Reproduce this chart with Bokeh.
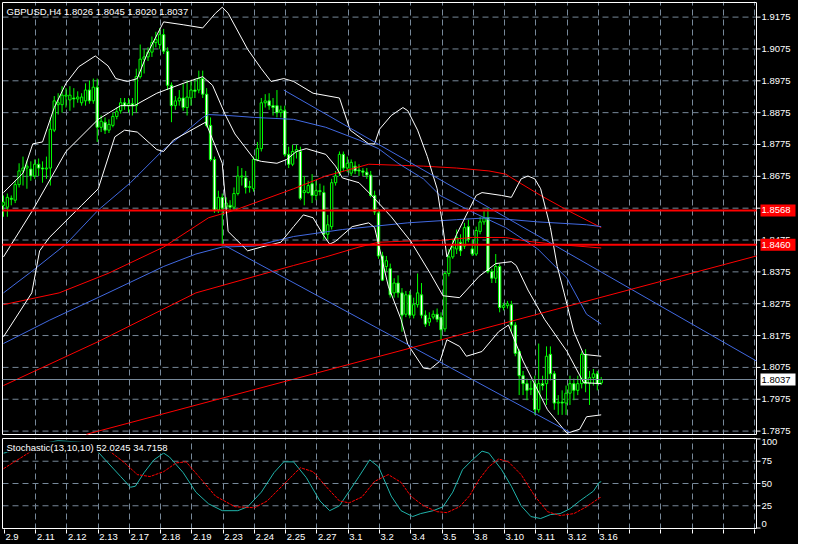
from bokeh.plotting import figure
from bokeh.models import Range1d, FixedTicker, Grid, Label, ColumnDataSource
from bokeh.core.properties import value
from bokeh.layouts import column
from bokeh.embed import file_html
from bokeh.resources import INLINE

# ---------------- data ----------------
bar_open = [1.8584,1.8578,1.8606,1.8600,1.8649,1.8692,1.8701,1.8698,1.8676,1.8713,
1.8701,1.8698,1.8701,1.8820,1.8900,1.8900,1.8927,1.8915,1.8921,1.8918,
1.8906,1.8912,1.8946,1.8912,1.8955,1.8829,1.8845,1.8820,1.8835,1.8863,
1.8881,1.8906,1.8897,1.8903,1.8897,1.8988,1.9043,1.9050,1.9065,1.9095,
1.9089,1.9120,1.9068,1.8961,1.8897,1.8912,1.8921,1.8891,1.8921,1.8946,
1.8946,1.8982,1.8933,1.8835,1.8728,1.8569,1.8609,1.8578,1.8584,1.8578,
1.8621,1.8673,1.8670,1.8640,1.8636,1.8728,1.8762,1.8906,1.8912,1.8897,
1.8897,1.8875,1.8881,1.8744,1.8713,1.8753,1.8753,1.8624,1.8624,1.8652,
1.8615,1.8630,1.8624,1.8493,1.8517,1.8655,1.8685,1.8744,1.8701,1.8685,
1.8707,1.8695,1.8692,1.8688,1.8679,1.8615,1.8560,1.8425,1.8392,1.8385,
1.8309,1.8340,1.8309,1.8242,1.8303,1.8239,1.8272,1.8303,1.8239,1.8217,
1.8233,1.8242,1.8233,1.8196,1.8370,1.8422,1.8447,1.8468,1.8456,1.8517,
1.8447,1.8431,1.8502,1.8532,1.8545,1.8376,1.8355,1.8392,1.8263,1.8269,
1.8272,1.8208,1.8125,1.8049,1.8024,1.8006,1.8024,1.7942,1.8024,1.8024,
1.8116,1.8055,1.7963,1.7966,1.7963,1.7994,1.8024,1.8003,1.8024,1.8116,
1.8024,1.8043,1.8055,1.8026]
bar_close = [1.8594,1.8609,1.8603,1.8649,1.8692,1.8701,1.8707,1.8676,1.8713,1.8701,
1.8698,1.8701,1.8823,1.8912,1.8906,1.8930,1.8930,1.8930,1.8918,1.8924,
1.8924,1.8946,1.8912,1.8955,1.8829,1.8848,1.8820,1.8838,1.8863,1.8878,
1.8906,1.8897,1.8903,1.8897,1.8988,1.9043,1.9050,1.9065,1.9095,1.9105,
1.9120,1.9068,1.8961,1.8897,1.8912,1.8921,1.8891,1.8924,1.8946,1.8942,
1.8982,1.8933,1.8835,1.8728,1.8569,1.8609,1.8575,1.8591,1.8578,1.8621,
1.8676,1.8676,1.8640,1.8643,1.8728,1.8762,1.8906,1.8912,1.8897,1.8891,
1.8875,1.8884,1.8744,1.8713,1.8753,1.8759,1.8606,1.8630,1.8646,1.8615,
1.8630,1.8627,1.8493,1.8523,1.8655,1.8676,1.8744,1.8701,1.8716,1.8719,
1.8692,1.8692,1.8688,1.8679,1.8615,1.8563,1.8425,1.8349,1.8410,1.8303,
1.8340,1.8309,1.8239,1.8303,1.8239,1.8272,1.8309,1.8239,1.8211,1.8229,
1.8242,1.8226,1.8193,1.8370,1.8422,1.8453,1.8483,1.8441,1.8514,1.8477,
1.8431,1.8505,1.8532,1.8545,1.8376,1.8355,1.8392,1.8263,1.8269,1.8275,
1.8208,1.8119,1.8049,1.8024,1.8003,1.8009,1.7942,1.8024,1.8018,1.8110,
1.8055,1.7963,1.7966,1.7963,1.7994,1.8024,1.8003,1.8024,1.8116,1.8024,
1.8043,1.8055,1.8024,1.8037]
bar_high = [1.8615,1.8621,1.8615,1.8661,1.8716,1.8737,1.8725,1.8722,1.8728,1.8731,
1.8722,1.8737,1.8860,1.8927,1.8936,1.8958,1.8952,1.8958,1.8952,1.8942,
1.8936,1.8967,1.8976,1.8982,1.8982,1.8866,1.8860,1.8854,1.8875,1.8891,
1.8921,1.8921,1.8921,1.8921,1.9013,1.9089,1.9074,1.9080,1.9114,1.9129,
1.9141,1.9138,1.9080,1.8970,1.8927,1.8946,1.8967,1.8976,1.8976,1.8982,
1.9007,1.9007,1.8952,1.8860,1.8737,1.8630,1.8621,1.8609,1.8600,1.8640,
1.8707,1.8701,1.8692,1.8661,1.8737,1.8783,1.8921,1.8933,1.8936,1.8921,
1.8946,1.8897,1.8897,1.8768,1.8774,1.8774,1.8768,1.8676,1.8661,1.8682,
1.8661,1.8652,1.8646,1.8554,1.8667,1.8692,1.8753,1.8753,1.8737,1.8728,
1.8722,1.8713,1.8701,1.8701,1.8692,1.8630,1.8569,1.8438,1.8425,1.8401,
1.8355,1.8364,1.8324,1.8315,1.8315,1.8294,1.8370,1.8340,1.8254,1.8248,
1.8254,1.8260,1.8248,1.8376,1.8447,1.8477,1.8508,1.8493,1.8529,1.8539,
1.8477,1.8517,1.8548,1.8569,1.8575,1.8385,1.8431,1.8401,1.8278,1.8284,
1.8284,1.8217,1.8132,1.8064,1.8040,1.8034,1.8049,1.8150,1.8049,1.8141,
1.8141,1.8064,1.7988,1.8003,1.8018,1.8049,1.8040,1.8049,1.8125,1.8132,
1.8064,1.8070,1.8064,1.8045]
bar_low = [1.8548,1.8548,1.8584,1.8591,1.8640,1.8646,1.8636,1.8661,1.8667,1.8676,
1.8655,1.8667,1.8646,1.8814,1.8869,1.8875,1.8891,1.8881,1.8891,1.8906,
1.8897,1.8897,1.8903,1.8903,1.8783,1.8814,1.8808,1.8811,1.8829,1.8854,
1.8872,1.8884,1.8875,1.8866,1.8875,1.8982,1.8998,1.9037,1.9050,1.9080,
1.9074,1.9059,1.8946,1.8845,1.8884,1.8897,1.8881,1.8866,1.8897,1.8921,
1.8936,1.8921,1.8829,1.8722,1.8560,1.8560,1.8456,1.8566,1.8566,1.8569,
1.8615,1.8646,1.8621,1.8624,1.8627,1.8722,1.8753,1.8891,1.8884,1.8866,
1.8860,1.8860,1.8737,1.8701,1.8707,1.8731,1.8600,1.8584,1.8621,1.8591,
1.8600,1.8615,1.8477,1.8477,1.8508,1.8646,1.8676,1.8692,1.8688,1.8676,
1.8682,1.8676,1.8676,1.8667,1.8609,1.8554,1.8416,1.8346,1.8376,1.8294,
1.8294,1.8294,1.8187,1.8233,1.8229,1.8229,1.8263,1.8229,1.8202,1.8205,
1.8226,1.8217,1.8162,1.8187,1.8361,1.8416,1.8431,1.8425,1.8447,1.8468,
1.8425,1.8425,1.8493,1.8523,1.8370,1.8340,1.8340,1.8248,1.8254,1.8260,
1.8187,1.8110,1.7988,1.7988,1.7972,1.7988,1.7926,1.7933,1.8003,1.7957,
1.8034,1.7942,1.7926,1.7926,1.7926,1.7957,1.7972,1.7988,1.8009,1.7997,
1.7957,1.8018,1.8003,1.8020]

# Bollinger bands (white)
bb_up_bar = [0,5,7.5,10,13,16,19.25,23.5,26.75,28.75,31.75,34.25,36.75,41,46,51,54.25,56,57.5,62.5,66,68.5,71.75,74.25,79.25,86,88.75,93.5,95,96.25,99.25,102.25,103.5,106,108.5,111,112.5,113.5,116,121,122.5,127.5,130,132.5,134.25,136,137.5,140,141.75,143.5,146,148.5,153]
bb_up_val = [1.8624,1.8685,1.8777,1.8783,1.8891,1.8967,1.9019,1.9053,1.9022,1.8982,1.8973,1.8982,1.9059,1.9160,1.9151,1.9141,1.9187,1.9206,1.9187,1.9074,1.9013,1.8973,1.8982,1.8973,1.8936,1.8921,1.8820,1.8777,1.8777,1.8823,1.8866,1.8891,1.8881,1.8820,1.8737,1.8636,1.8514,1.8422,1.8493,1.8615,1.8624,1.8615,1.8609,1.8667,1.8676,1.8667,1.8636,1.8514,1.8392,1.8309,1.8187,1.8116,1.8110]
bb_mid_bar = [0,7.5,16,24.25,30,33.5,39.25,46,51,53.5,56.75,59.25,61.75,64.25,66,70,72.5,75,77.5,82.5,85,86.75,91,94.25,99.25,104.25,109.25,112.5,116.75,121.75,126,130,131.25,134.25,138.5,144.25,148.5,153]
bb_mid_val = [1.8422,1.8569,1.8753,1.8854,1.8897,1.8897,1.8936,1.8967,1.8988,1.8961,1.8869,1.8808,1.8768,1.8728,1.8722,1.8716,1.8728,1.8753,1.8762,1.8744,1.8707,1.8670,1.8655,1.8615,1.8548,1.8471,1.8370,1.8300,1.8294,1.8361,1.8401,1.8407,1.8395,1.8318,1.8226,1.8125,1.8027,1.8024]
bb_low_bar = [0,7.25,9.25,11.75,20,24.25,28.5,31,34.25,39.25,41,43.5,51.75,56,57.5,62.5,66,71,74.25,76.75,79.25,81.75,83.5,85,89.25,93.5,95,98.5,101.75,103.5,107.5,109.25,111.75,113.5,116.75,118.5,122.5,126.75,129.25,133,139.25,144.25,147.5,149.25,153]
bb_low_val = [1.8171,1.8309,1.8441,1.8483,1.8584,1.8636,1.8799,1.8820,1.8814,1.8759,1.8753,1.8789,1.8845,1.8716,1.8502,1.8441,1.8453,1.8468,1.8517,1.8554,1.8545,1.8493,1.8462,1.8471,1.8517,1.8529,1.8514,1.8330,1.8226,1.8147,1.8073,1.8070,1.8095,1.8162,1.8141,1.8110,1.8125,1.8187,1.8208,1.8095,1.7942,1.7868,1.7881,1.7920,1.7926]

# moving averages
ma_blue1_bar = [0,7.5,16,24.25,32.5,41,46,51,52.5,57.5,64.25,74.25,82.5,91,96,101,107.5,111.75,120,128.5,136.75,144.25,149.25,153]
ma_blue1_val = [1.8309,1.8379,1.8462,1.8569,1.8655,1.8759,1.8808,1.8860,1.8869,1.8866,1.8860,1.8854,1.8829,1.8789,1.8762,1.8716,1.8667,1.8615,1.8563,1.8514,1.8447,1.8355,1.8242,1.8211]
ma_blue2_bar = [0,11.75,26.75,41,49.25,56,64.25,74.25,86.75,103.5,116,124.25,136.75,149.25,153]
ma_blue2_val = [1.8150,1.8223,1.8309,1.8392,1.8431,1.8453,1.8456,1.8486,1.8508,1.8529,1.8539,1.8545,1.8532,1.8523,1.8517]
ma_red1_bar = [0,14.25,26.75,41,52.5,59.25,74.25,82.5,93.5,107.5,116,124.25,128.5,132.5,137.5,144.25,153]
ma_red1_val = [1.8272,1.8309,1.8370,1.8453,1.8545,1.8569,1.8636,1.8676,1.8713,1.8707,1.8701,1.8692,1.8682,1.8652,1.8615,1.8569,1.8514]
ma_red2_bar = [0,24.25,49.25,74.25,82.5,91,96,101.75,111.75,120,128.5,134.25,141,153]
ma_red2_val = [1.8018,1.8156,1.8309,1.8395,1.8422,1.8453,1.8468,1.8471,1.8474,1.8483,1.8483,1.8471,1.8462,1.8450]

# trend lines (two anchor points each)
tl_blue1_bar = [71.75, 192.75]
tl_blue1_val = [1.8946, 1.8095]
tl_blue2_bar = [56, 145]
tl_blue2_val = [1.8462, 1.7871]
tl_red_bar = [21.25, 192.75]
tl_red_val = [1.7865, 1.8425]

level_red = [1.8568, 1.8460]
level_bid = 1.8037

# stochastic
k_bar = [0,1,6,14,21,24.25,26.75,30,32.5,33.75,36,38.5,41,42.5,46,49.25,52.5,56,60,62.5,66,69.25,71.75,74.25,77.5,81,83.5,86,88.5,91,93.75,96,99.25,101.75,104.75,106.75,110,112.5,115,117.5,120,122.5,124.25,127.5,130,132.5,135,137.5,140,142.5,145,147.5,149.25,151,152.5,153]
k_val = [84.1,85.0,92,98,96,85.2,73.2,57.8,45.8,46.9,62.2,76.5,84.1,79.7,62.2,40.3,27.2,19.5,19.5,23.9,40.3,62.2,74.3,74.3,56.7,30.4,19.5,25.0,41.4,57.8,76.5,68.8,35.9,19.5,12.9,16.2,19.5,23.9,40.3,65.5,76.5,86.3,84.1,65.5,46.9,25.0,12.9,10.7,15.1,16.2,21.7,30.4,35.9,41.4,51.3,52.0]
d_bar = [0,6.75,14.25,21.75,27.5,31,34.25,37.5,41,44.25,46.75,50,54.25,59.25,64.25,67.5,71.75,76,79.25,82.5,86,88.5,91.75,95,98.5,101.75,104.25,107.5,111,113.5,116.75,119.25,121.75,124.25,126.75,129.25,132.5,136,139.25,142.5,146,149.25,152.5,153]
d_val = [66.6,85.2,95,93,85.2,73.2,60.0,57.8,63.3,73.2,74.3,57.8,35.9,23.9,22.8,30.4,49.1,67.7,63.3,46.9,30.4,28.3,34.8,52.4,60.0,51.3,35.9,25.0,18.4,17.3,23.9,35.9,54.5,68.8,77.5,74.3,60.0,35.9,18.4,14.0,16.2,23.9,33.7,34.7]

date_labels = ['2.9','2.11','2.12','2.13','2.17','2.18','2.19','2.23','2.24','2.25',
               '2.27','3.1','3.2','3.4','3.5','3.8','3.10','3.11','3.12','3.16']
price_ticks = [1.7875,1.7975,1.8075,1.8175,1.8275,1.8375,1.8475,1.8575,1.8675,
               1.8775,1.8875,1.8975,1.9075,1.9175]
stoch_ticks = [0, 25, 50, 75, 100]

title_text = "GBPUSD,H4  1.8026 1.8045 1.8020 1.8037"
stoch_text = "Stochastic(13,10,10)  52.0245  34.7158"

# ---------------- styling / geometry ----------------
FONT = "Liberation Sans"
FS = "9.5px"
BG = "black"
GRID = "#778899"
LIME = "#00ff00"
BLUE = "#4169e1"
PLOT_W = 754          # width of the price area in px
LAB_W = 41            # width of the label strip on the right
X0, X1 = -0.25, 192.75
PPB = PLOT_W / (X1 - X0)
XS, XE = X0 - 1 / PPB, X1 + LAB_W / PPB
Y0, Y1 = 1.78643, 1.92209
MAIN_H = 432
PPY = MAIN_H / (Y1 - Y0)
S0, S1 = -0.5, 100.5
STO_H = 90
PPS = STO_H / (S1 - S0)

grid_x = [0.25 + 8 * k for k in range(1, 25)]
xr = Range1d(XS, XE)


def base_fig(yr, fh, top, bottom, xaxis):
    f = figure(frame_width=PLOT_W + 1 + LAB_W, frame_height=fh, x_range=xr, y_range=yr,
               x_axis_location=xaxis, y_axis_location=None, toolbar_location=None,
               output_backend="svg", min_border_left=1, min_border_right=1,
               min_border_top=top, min_border_bottom=bottom)
    f.background_fill_color = BG
    f.border_fill_color = BG
    f.outline_line_color = None
    f.grid.visible = False
    f.add_layout(Grid(dimension=0, ticker=FixedTicker(ticks=grid_x), grid_line_color=GRID,
                      grid_line_dash="6 4", grid_line_width=1))
    return f


def frame_box(f, ylo, yhi, yticks, gridticks):
    n = len(gridticks)
    f.segment(x0=[X0] * n, y0=gridticks, x1=[X1] * n, y1=gridticks, line_color=GRID,
              line_dash="6 4", line_width=1)
    f.line([X0, X1, X1, X0, X0], [yhi, yhi, ylo, ylo, yhi], line_color="white", line_width=1)
    m = len(yticks)
    f.segment(x0=[X1] * m, y0=yticks, x1=[X1 + 4 / PPB] * m, y1=yticks, line_color="white",
              line_width=1)


# ---------------- main price panel ----------------
p = base_fig(Range1d(Y0 - 1 / PPY, Y1 + 1 / PPY), MAIN_H + 2, 1, 0, None)
frame_box(p, Y0, Y1, price_ticks, price_ticks)

bars = list(range(len(bar_close)))
src = ColumnDataSource(dict(
    x=bars, h=bar_high, l=bar_low,
    top=[max(o, c) for o, c in zip(bar_open, bar_close)],
    bottom=[min(o, c) for o, c in zip(bar_open, bar_close)],
    fill=["white" if c < o else "black" for o, c in zip(bar_open, bar_close)],
))
p.segment(x0="x", y0="h", x1="x", y1="l", source=src, line_color=LIME, line_width=1)
p.vbar(x="x", width=0.6, top="top", bottom="bottom", fill_color="fill", line_color=LIME,
       line_width=1, source=src)

for bx, by, col in [(ma_red2_bar, ma_red2_val, "red"), (ma_red1_bar, ma_red1_val, "red"),
                    (ma_blue2_bar, ma_blue2_val, BLUE), (ma_blue1_bar, ma_blue1_val, BLUE),
                    (bb_up_bar, bb_up_val, "white"), (bb_mid_bar, bb_mid_val, "white"),
                    (bb_low_bar, bb_low_val, "white"),
                    (tl_blue1_bar, tl_blue1_val, BLUE), (tl_blue2_bar, tl_blue2_val, BLUE),
                    (tl_red_bar, tl_red_val, "red")]:
    p.line(bx, by, line_color=col, line_width=1)

p.segment(x0=[X0] * 2, y0=level_red, x1=[X1] * 2, y1=level_red, line_color="red", line_width=2)
p.segment(x0=[X0], y0=[level_bid], x1=[X1], y1=[level_bid], line_color=GRID, line_width=1)

# right-hand price scale
p.text(x=[X1] * len(price_ticks), y=price_ticks, text=["%.4f" % t for t in price_ticks],
       x_offset=5, text_baseline="middle", text_align="left", text_color="white",
       text_font=value(FONT), text_font_size=FS)
box_vals = level_red + [level_bid]
p.rect(x=[X1 + 21.5 / PPB] * 3, y=box_vals, width=35, height=12, width_units="screen",
       height_units="screen", fill_color=["red", "red", "white"], line_color=None)
p.text(x=[X1] * 3, y=box_vals, text=["%.4f" % v for v in box_vals], x_offset=5,
       text_baseline="middle", text_align="left", text_color=["white", "white", "black"],
       text_font=value(FONT), text_font_size=FS)

p.add_layout(Label(x=X0, y=Y1, x_offset=4, y_offset=-3, text=title_text, text_baseline="top",
                   text_color="white", text_font=FONT, text_font_size=FS))

# ---------------- stochastic panel ----------------
s = base_fig(Range1d(S0 - 1 / PPS, S1 + 1 / PPS), STO_H + 2, 2, 15, "below")
frame_box(s, S0, S1, stoch_ticks, [25, 50, 75])

s.line(k_bar, k_val, line_color="#20b2aa", line_width=1)
s.line(d_bar, d_val, line_color="red", line_width=1, line_dash="3 1")

for tk, off in zip(stoch_ticks, [-4, 0, 0, 0, 3]):
    s.text(x=[X1], y=[tk], text=["%d" % tk], x_offset=5, y_offset=off, text_baseline="middle",
           text_align="left", text_color="white", text_font=value(FONT), text_font_size=FS)

s.add_layout(Label(x=X0, y=S1, x_offset=4, y_offset=-3, text=stoch_text, text_baseline="top",
                   text_color="white", text_font=FONT, text_font_size=FS,
                   background_fill_color="black"))

label_pos = []
for k, lab in enumerate(date_labels):
    wpx = 5.3 * sum(ch.isdigit() for ch in lab) + 2.6
    label_pos.append(round(0.25 + 8 * k + (wpx / 2 + 1) / PPB, 3))
sx = s.xaxis[0]
sx.ticker = FixedTicker(ticks=label_pos, minor_ticks=[0.25] + grid_x)
sx.major_label_overrides = {pos: lab for pos, lab in zip(label_pos, date_labels)}
sx.axis_line_color = None
sx.major_tick_line_color = None
sx.major_tick_out = 4
sx.minor_tick_line_color = "white"
sx.minor_tick_in = 0
sx.minor_tick_out = 4
sx.major_label_standoff = 0
sx.major_label_text_color = "white"
sx.major_label_text_font = FONT
sx.major_label_text_font_size = FS

layout = column(p, s, spacing=0)
layout.styles = {"background-color": "black"}
open("out.html", "w").write(file_html(layout, INLINE))
